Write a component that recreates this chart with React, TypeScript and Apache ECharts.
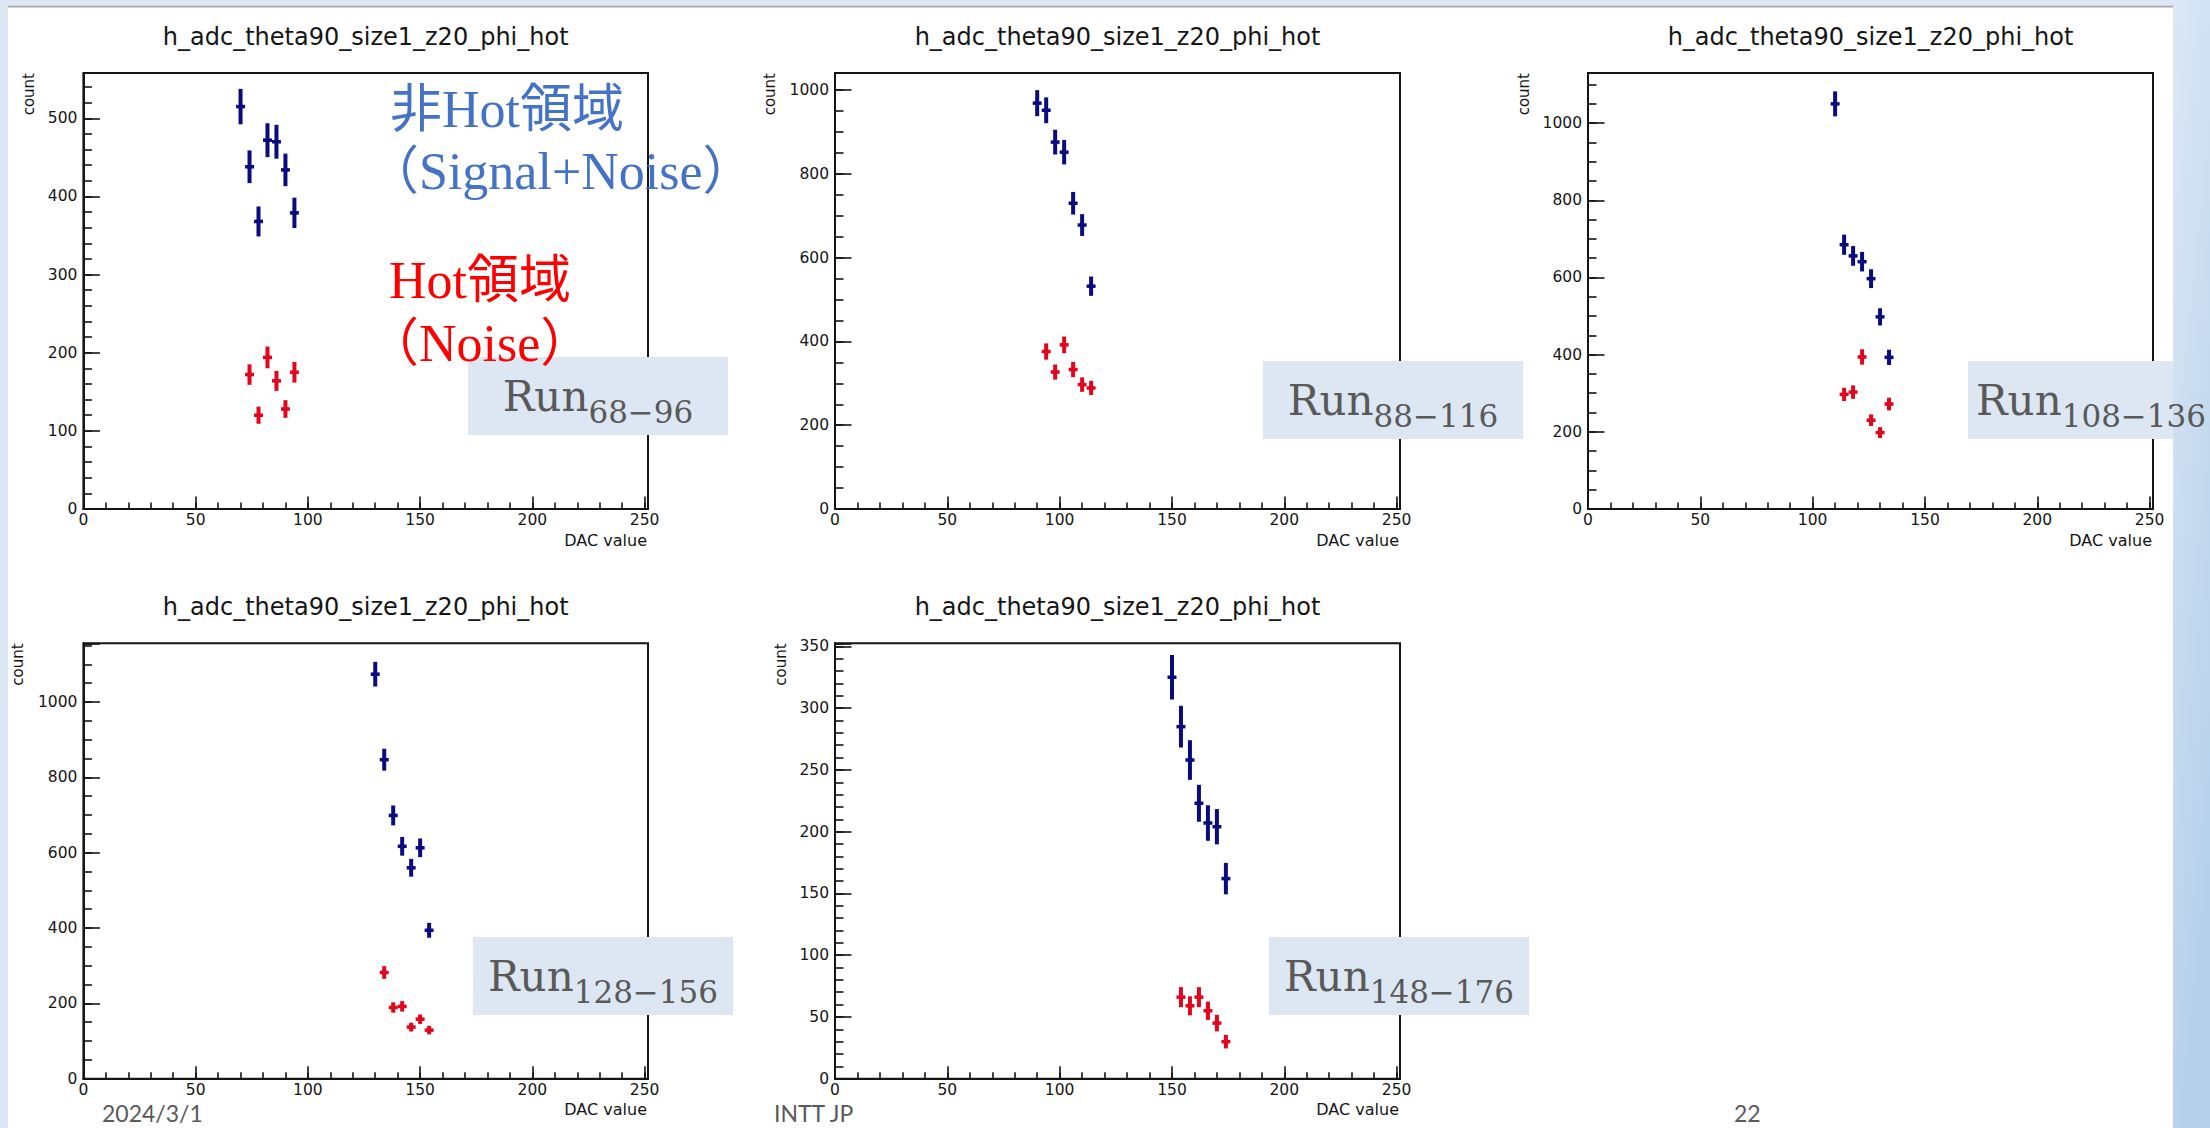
import React, { useEffect, useRef } from 'react';
import * as echarts from 'echarts';

// ---- texts ----
const PANEL_TITLE = 'h_adc_theta90_size1_z20_phi_hot';
const X_NAME = 'DAC value';
const Y_NAME = 'count';
const RUN_RANGES = ['68−96', '88−116', '108−136', '128−156', '148−176'];
const FOOTER = ['2024/3/1', 'INTT JP', '22'];

// ---- data: DAC bin centres and hit counts per run range ----
// non-hot region (Signal+Noise) and hot region (Noise)
const DAC_1 = [70, 74, 78, 82, 86, 90, 94];
const NONHOT_1 = [515, 438, 368, 472, 470, 434, 379];
const HOT_DAC_1 = [74, 78, 82, 86, 90, 94];
const HOT_1 = [172, 120, 194, 164, 128, 175];

const DAC_2 = [90, 94, 98, 102, 106, 110, 114];
const NONHOT_2 = [969, 952, 876, 852, 730, 678, 532];
const HOT_DAC_2 = [94, 98, 102, 106, 110, 114];
const HOT_2 = [376, 327, 392, 333, 297, 289];

const DAC_3 = [110, 114, 118, 122, 126, 130, 134];
const NONHOT_3 = [1050, 685, 656, 641, 597, 498, 393];
const HOT_DAC_3 = [114, 118, 122, 126, 130, 134];
const HOT_3 = [297, 303, 394, 230, 198, 272];

const DAC_4 = [130, 134, 138, 142, 146, 150, 154];
const NONHOT_4 = [1074, 847, 699, 617, 560, 613, 394];
const HOT_DAC_4 = [134, 138, 142, 146, 150, 154];
const HOT_4 = [282, 189, 192, 137, 158, 129];

const DAC_5 = [150, 154, 158, 162, 166, 170, 174];
const NONHOT_5 = [325, 285, 258, 223, 207, 204, 162];
const HOT_DAC_5 = [154, 158, 162, 166, 170, 174];
const HOT_5 = [66, 59, 66, 55, 45, 30];

// bin width of the DAC histogram (horizontal error bar = ±half bin)
const BIN_WIDTH = 4;

// ---- axis ranges and tick steps ----
const X_MAX = 251.5;
const X_MAJOR = 50;
const X_MINOR = 10;
const Y_MAX = [558, 1041, 1130, 1156, 352.5];
const Y_MAJOR = [100, 200, 200, 200, 50];
const Y_MINOR = [20, 50, 50, 50, 10];

const PANELS = [
  { dac: DAC_1, nonhot: NONHOT_1, hotDac: HOT_DAC_1, hot: HOT_1 },
  { dac: DAC_2, nonhot: NONHOT_2, hotDac: HOT_DAC_2, hot: HOT_2 },
  { dac: DAC_3, nonhot: NONHOT_3, hotDac: HOT_DAC_3, hot: HOT_3 },
  { dac: DAC_4, nonhot: NONHOT_4, hotDac: HOT_DAC_4, hot: HOT_4 },
  { dac: DAC_5, nonhot: NONHOT_5, hotDac: HOT_DAC_5, hot: HOT_5 },
];

// ---- layout ----
const W = 2210;
const H = 1128;
const FRAMES = [
  { left: 83.4, top: 73, width: 564.6, height: 436 },
  { left: 835, top: 73, width: 565, height: 436 },
  { left: 1588, top: 73, width: 565, height: 436 },
  { left: 83.4, top: 643.3, width: 564.6, height: 435.4 },
  { left: 835, top: 643.3, width: 565, height: 435.4 },
];
const YNAME_GAP = [54, 65, 64, 65, 54];
const RUN_BOXES = [
  [468, 357],
  [1263, 361],
  [1968, 361],
  [473, 937],
  [1269, 937],
];
const RUN_BOX_W = 260;
const RUN_BOX_H = 78;

// ---- style ----
const INK = '#151515';
const NONHOT_COLOR = '#0b0b80';
const HOT_COLOR = '#e1061e';
const SLIDE_BLUE = '#dde8f5';
const BOX_FILL = '#dde7f3';
const GREY_TEXT = '#595959';
const ROOT_FONT = "'DejaVu Sans', 'Liberation Sans', sans-serif";
const RUN_FONT = "'DejaVu Serif', 'Liberation Serif', serif";
const NOTE_FONT = "'Liberation Serif', 'Noto Sans CJK JP', serif";
const FOOT_FONT = "Lato, 'Noto Sans', sans-serif";

const stepFormatter = (step: number) => (v: number) => {
  const q = v / step;
  return Math.abs(q - Math.round(q)) < 1e-6 ? String(Math.round(v)) : '';
};

// ROOT-style marker: vertical √N error bar, horizontal half-bin bar, small dot
const errorCross = (color: string) => (_params: any, api: any) => {
  const x = api.value(0);
  const y = api.value(1);
  const err = Math.sqrt(y);
  const c = api.coord([x, y]);
  const top = api.coord([x, y + err]);
  const bot = api.coord([x, y - err]);
  const l = api.coord([x - BIN_WIDTH / 2, y]);
  const r = api.coord([x + BIN_WIDTH / 2, y]);
  return {
    type: 'group',
    children: [
      { type: 'line', shape: { x1: c[0], y1: top[1], x2: c[0], y2: bot[1] }, style: { stroke: color, lineWidth: 4 } },
      { type: 'line', shape: { x1: l[0], y1: c[1], x2: r[0], y2: c[1] }, style: { stroke: color, lineWidth: 3.5 } },
      { type: 'circle', shape: { cx: c[0], cy: c[1], r: 2.6 }, style: { fill: color } },
    ],
  };
};

function buildOption(measure: (t: string, f: string) => number) {
  const grid: any[] = [];
  const xAxis: any[] = [];
  const yAxis: any[] = [];
  const series: any[] = [];
  const title: any[] = [];
  const graphic: any[] = [];

  const tickLine = { color: INK, width: 1.6 };

  FRAMES.forEach((f, i) => {
    grid.push({
      left: f.left,
      top: f.top,
      width: f.width,
      height: f.height,
      show: true,
      borderColor: INK,
      borderWidth: 2,
      backgroundColor: 'transparent',
      containLabel: false,
      outerBoundsMode: 'none',
    });

    const labelStyle = { fontFamily: ROOT_FONT, fontSize: 15.5, color: INK };

    xAxis.push(
      {
        type: 'value',
        gridIndex: i,
        position: 'bottom',
        min: 0,
        max: X_MAX,
        interval: X_MAJOR,
        axisLine: { show: true, onZero: false, lineStyle: { color: INK, width: 2 } },
        axisTick: { show: true, inside: true, length: 12.5, lineStyle: tickLine },
        axisLabel: { ...labelStyle, margin: 3, formatter: stepFormatter(X_MAJOR) },
        splitLine: { show: false },
      },
      {
        type: 'value',
        gridIndex: i,
        position: 'bottom',
        min: 0,
        max: X_MAX,
        interval: X_MINOR,
        axisLine: { show: false, onZero: false },
        axisTick: { show: true, inside: true, length: 6.5, lineStyle: tickLine },
        axisLabel: { show: false },
        splitLine: { show: false },
      }
    );

    yAxis.push(
      {
        type: 'value',
        gridIndex: i,
        position: 'left',
        min: 0,
        max: Y_MAX[i],
        interval: Y_MAJOR[i],
        axisLine: { show: true, onZero: false, lineStyle: { color: INK, width: 2 } },
        axisTick: { show: true, inside: true, length: 16.5, lineStyle: tickLine },
        axisLabel: { ...labelStyle, margin: 6, formatter: stepFormatter(Y_MAJOR[i]) },
        splitLine: { show: false },
      },
      {
        type: 'value',
        gridIndex: i,
        position: 'left',
        min: 0,
        max: Y_MAX[i],
        interval: Y_MINOR[i],
        axisLine: { show: false, onZero: false },
        axisTick: { show: true, inside: true, length: 8.5, lineStyle: tickLine },
        axisLabel: { show: false },
        splitLine: { show: false },
      }
    );

    const p = PANELS[i];
    series.push(
      {
        type: 'custom',
        name: 'non-hot',
        coordinateSystem: 'cartesian2d',
        xAxisIndex: 2 * i,
        yAxisIndex: 2 * i,
        data: p.dac.map((x, k) => [x, p.nonhot[k]]),
        encode: { x: 0, y: 1 },
        renderItem: errorCross(NONHOT_COLOR),
        silent: true,
        z: 3,
      },
      {
        type: 'custom',
        name: 'hot',
        coordinateSystem: 'cartesian2d',
        xAxisIndex: 2 * i,
        yAxisIndex: 2 * i,
        data: p.hotDac.map((x, k) => [x, p.hot[k]]),
        encode: { x: 0, y: 1 },
        renderItem: errorCross(HOT_COLOR),
        silent: true,
        z: 3,
      }
    );

    title.push({
      text: PANEL_TITLE,
      left: f.left + f.width / 2,
      top: f.top - 36,
      textAlign: 'center',
      textVerticalAlign: 'middle',
      padding: 0,
      textStyle: { fontFamily: ROOT_FONT, fontSize: 24, fontWeight: 'normal', color: INK },
    });

    // axis titles, ROOT style: y title at the top end, x title at the right end
    graphic.push(
      {
        type: 'text',
        x: f.left - YNAME_GAP[i],
        y: f.top,
        rotation: Math.PI / 2,
        z: 5,
        style: { text: Y_NAME, fill: INK, font: `15px ${ROOT_FONT}`, align: 'right', verticalAlign: 'middle' },
      },
      {
        type: 'text',
        x: f.left + f.width - 1,
        y: f.top + f.height + 31,
        z: 5,
        style: { text: X_NAME, fill: INK, font: `16px ${ROOT_FONT}`, align: 'right', verticalAlign: 'middle' },
      }
    );
  });

  // slide frame: blue margins and thin grey rule
  graphic.push(
    { type: 'rect', shape: { x: 0, y: 0, width: 8, height: H }, style: { fill: SLIDE_BLUE }, z: 20 },
    { type: 'rect', shape: { x: 0, y: 0, width: W, height: 6 }, style: { fill: SLIDE_BLUE }, z: 20 },
    { type: 'rect', shape: { x: 8, y: 5.8, width: 2165, height: 1.6 }, style: { fill: '#a8a8a8' }, z: 20 }
  );

  // run-range boxes
  const runFont = `42px ${RUN_FONT}`;
  const subFont = `31px ${RUN_FONT}`;
  RUN_BOXES.forEach(([bx, by], i) => {
    graphic.push({
      type: 'rect',
      shape: { x: bx, y: by, width: RUN_BOX_W, height: RUN_BOX_H },
      style: { fill: BOX_FILL },
      z: 10,
    });
    const wRun = measure('Run', runFont);
    const wSub = measure(RUN_RANGES[i], subFont);
    // centred in its box, but kept inside the page
    const x0 = Math.min(bx + (RUN_BOX_W - wRun - wSub) / 2, W - 4 - wRun - wSub);
    graphic.push(
      {
        type: 'text',
        x: x0,
        y: by + 54 - 0.346 * 42,
        z: 30,
        style: { text: 'Run', fill: GREY_TEXT, font: runFont, align: 'left', verticalAlign: 'middle' },
      },
      {
        type: 'text',
        x: x0 + wRun,
        y: by + 66 - 0.346 * 31,
        z: 30,
        style: { text: RUN_RANGES[i], fill: GREY_TEXT, font: subFont, align: 'left', verticalAlign: 'middle' },
      }
    );
  });

  // right margin with soft blue gradient (drawn over the boxes, under the texts)
  graphic.push({
    type: 'rect',
    shape: { x: 2173, y: 0, width: W - 2173, height: H },
    style: {
      fill: new echarts.graphic.LinearGradient(0, 0, 0.3, 1, [
        { offset: 0, color: '#dde8f5' },
        { offset: 1, color: '#b5d0ea' },
      ]),
    },
    z: 20,
  });

  // region annotations on the first panel
  const noteFont = `52px ${NOTE_FONT}`;
  const notes = [
    { text: '非Hot領域', x: 390, base: 127, color: '#4472c4' },
    { text: '（Signal+Noise）', x: 367, base: 189, color: '#4472c4' },
    { text: 'Hot領域', x: 389, base: 298, color: '#ff0000' },
    { text: '（Noise）', x: 367, base: 361, color: '#ff0000' },
  ];
  notes.forEach((n) =>
    graphic.push({
      type: 'text',
      x: n.x,
      y: n.base - 0.3375 * 52,
      z: 30,
      style: { text: n.text, fill: n.color, font: noteFont, align: 'left', verticalAlign: 'middle' },
    })
  );

  // footer
  const footX = [102, 774, 1734];
  FOOTER.forEach((t, k) =>
    graphic.push({
      type: 'text',
      x: footX[k],
      y: 1113,
      z: 30,
      style: { text: t, fill: GREY_TEXT, font: `23px ${FOOT_FONT}`, align: 'left', verticalAlign: 'middle' },
    })
  );

  return {
    animation: false,
    backgroundColor: '#ffffff',
    title,
    grid,
    xAxis,
    yAxis,
    series,
    graphic: { elements: graphic },
  };
}

export default function App() {
  const ref = useRef<HTMLDivElement>(null);

  useEffect(() => {
    if (!ref.current) return;
    const ctx = document.createElement('canvas').getContext('2d');
    const measure = (t: string, f: string) => {
      if (!ctx) return t.length * 20;
      ctx.font = f;
      return ctx.measureText(t).width;
    };
    const chart = echarts.init(ref.current, null, { renderer: 'svg' });
    chart.setOption(buildOption(measure) as any);
    return () => chart.dispose();
  }, []);

  return (
    <div
      ref={ref}
      style={{ position: 'fixed', left: 0, top: 0, width: W, height: H, background: '#fff' }}
    />
  );
}
